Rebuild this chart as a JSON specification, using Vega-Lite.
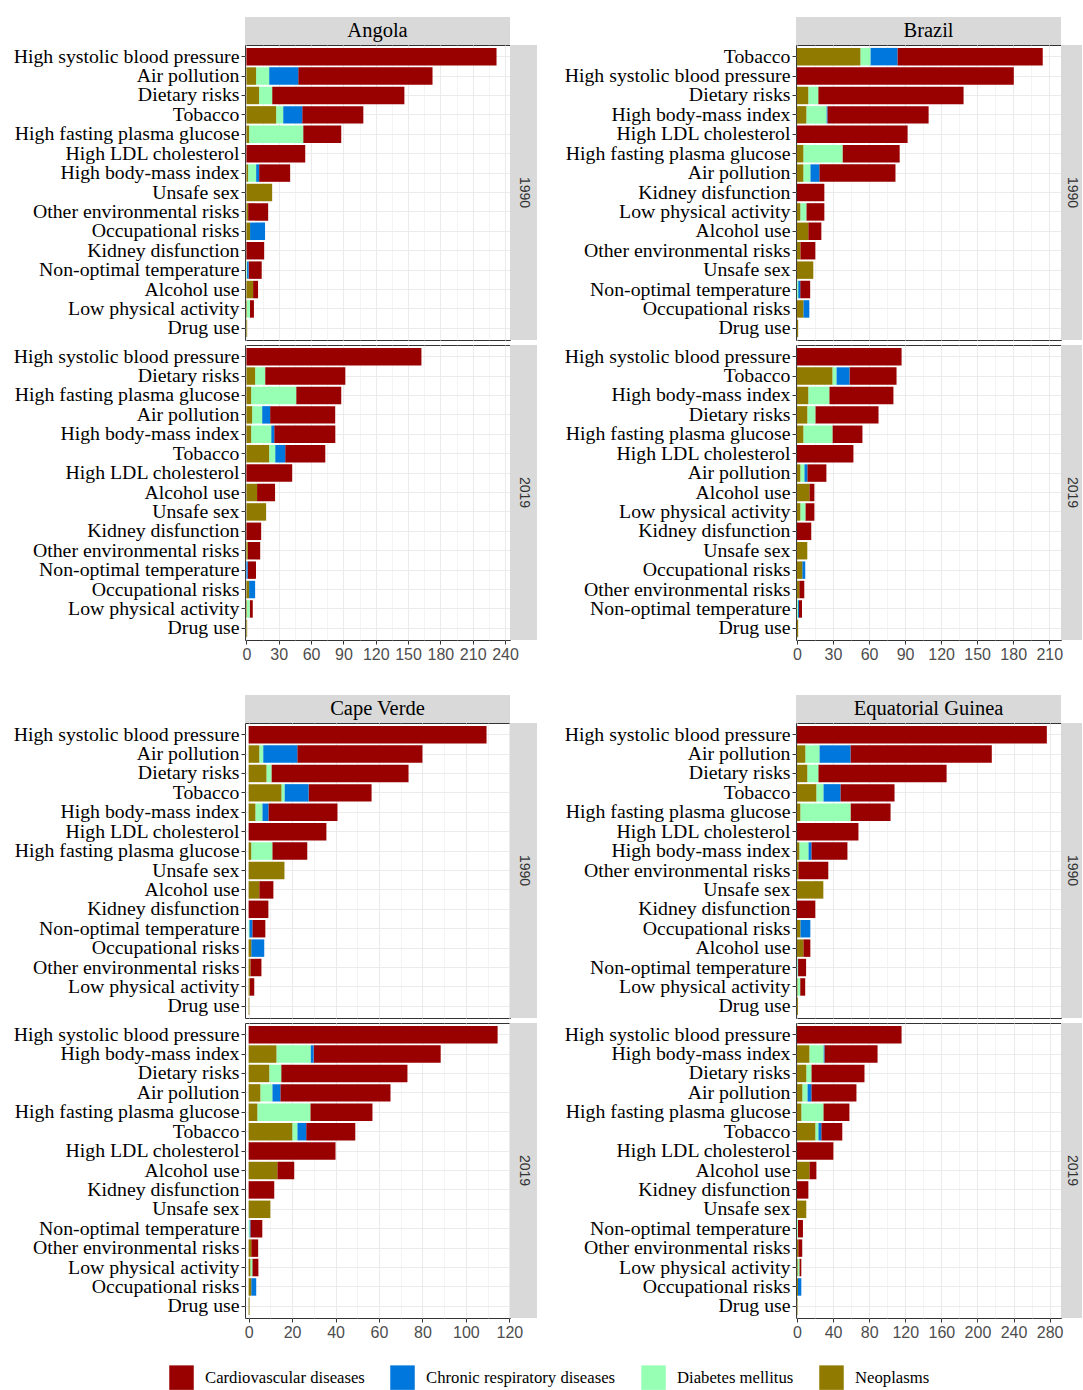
{
"$schema":"https://vega.github.io/schema/vega-lite/v6.json",
"padding":{"left":12,"top":17,"right":0,"bottom":0},
"background":"white",
"config":{
 "view":{"stroke":"#333333","strokeWidth":1},
 "axisX":{"domain":false,"grid":true,"gridColor":"#EBEBEB","tickColor":"#333333","tickSize":4,"labelFont":"Liberation Sans","labelFontSize":16,"labelColor":"#4D4D4D","labelPadding":2,"labelFlush":false,"labelOverlap":false,"title":null},
 "axisY":{"domain":false,"grid":true,"gridColor":"#EBEBEB","gridWidth":1.1,"tickColor":"#333333","tickSize":4,"labelFont":"Liberation Serif","labelFontSize":19.8,"labelColor":"#000000","labelLimit":500,"labelPadding":2,"title":null}
},
"datasets":{"d":[
{"country":"Angola","year":"1990","risk":"High systolic blood pressure","Cardiovascular diseases":232.1},
{"country":"Angola","year":"1990","risk":"Air pollution","Neoplasms":9.0,"Diabetes mellitus":12.1,"Chronic respiratory diseases":27.0,"Cardiovascular diseases":124.6},
{"country":"Angola","year":"1990","risk":"Dietary risks","Neoplasms":11.8,"Diabetes mellitus":12.1,"Cardiovascular diseases":122.7},
{"country":"Angola","year":"1990","risk":"Tobacco","Neoplasms":27.6,"Diabetes mellitus":6.5,"Chronic respiratory diseases":17.7,"Cardiovascular diseases":56.7},
{"country":"Angola","year":"1990","risk":"High fasting plasma glucose","Neoplasms":2.5,"Diabetes mellitus":50.2,"Cardiovascular diseases":35.3},
{"country":"Angola","year":"1990","risk":"High LDL cholesterol","Cardiovascular diseases":54.6},
{"country":"Angola","year":"1990","risk":"High body-mass index","Neoplasms":1.6,"Diabetes mellitus":7.4,"Chronic respiratory diseases":2.8,"Cardiovascular diseases":28.8},
{"country":"Angola","year":"1990","risk":"Unsafe sex","Neoplasms":23.9},
{"country":"Angola","year":"1990","risk":"Other environmental risks","Neoplasms":1.6,"Cardiovascular diseases":18.6},
{"country":"Angola","year":"1990","risk":"Occupational risks","Neoplasms":3.4,"Chronic respiratory diseases":13.9},
{"country":"Angola","year":"1990","risk":"Kidney disfunction","Cardiovascular diseases":16.5},
{"country":"Angola","year":"1990","risk":"Non-optimal temperature","Diabetes mellitus":0.6,"Chronic respiratory diseases":1.5,"Cardiovascular diseases":12.1},
{"country":"Angola","year":"1990","risk":"Alcohol use","Neoplasms":6.2,"Cardiovascular diseases":4.6},
{"country":"Angola","year":"1990","risk":"Low physical activity","Neoplasms":0.5,"Diabetes mellitus":2.8,"Cardiovascular diseases":3.7},
{"country":"Angola","year":"1990","risk":"Drug use","Neoplasms":0.7},
{"country":"Angola","year":"2019","risk":"High systolic blood pressure","Cardiovascular diseases":162.4},
{"country":"Angola","year":"2019","risk":"Dietary risks","Neoplasms":8.1,"Diabetes mellitus":9.3,"Cardiovascular diseases":74.4},
{"country":"Angola","year":"2019","risk":"High fasting plasma glucose","Neoplasms":4.4,"Diabetes mellitus":41.8,"Cardiovascular diseases":41.8},
{"country":"Angola","year":"2019","risk":"Air pollution","Neoplasms":5.3,"Diabetes mellitus":9.3,"Chronic respiratory diseases":7.4,"Cardiovascular diseases":60.4},
{"country":"Angola","year":"2019","risk":"High body-mass index","Neoplasms":4.4,"Diabetes mellitus":18.6,"Chronic respiratory diseases":2.8,"Cardiovascular diseases":56.7},
{"country":"Angola","year":"2019","risk":"Tobacco","Neoplasms":21.1,"Diabetes mellitus":5.6,"Chronic respiratory diseases":9.3,"Cardiovascular diseases":37.2},
{"country":"Angola","year":"2019","risk":"High LDL cholesterol","Cardiovascular diseases":42.5},
{"country":"Angola","year":"2019","risk":"Alcohol use","Neoplasms":9.9,"Cardiovascular diseases":16.7},
{"country":"Angola","year":"2019","risk":"Unsafe sex","Neoplasms":18.3},
{"country":"Angola","year":"2019","risk":"Kidney disfunction","Cardiovascular diseases":13.7},
{"country":"Angola","year":"2019","risk":"Other environmental risks","Neoplasms":1.3,"Cardiovascular diseases":11.5},
{"country":"Angola","year":"2019","risk":"Non-optimal temperature","Chronic respiratory diseases":1.2,"Cardiovascular diseases":7.7},
{"country":"Angola","year":"2019","risk":"Occupational risks","Neoplasms":2.5,"Chronic respiratory diseases":5.6},
{"country":"Angola","year":"2019","risk":"Low physical activity","Neoplasms":0.5,"Diabetes mellitus":2.6,"Cardiovascular diseases":2.8},
{"country":"Angola","year":"2019","risk":"Drug use","Neoplasms":0.7},
{"country":"Brazil","year":"1990","risk":"Tobacco","Neoplasms":52.8,"Diabetes mellitus":8.3,"Chronic respiratory diseases":22.5,"Cardiovascular diseases":121.0},
{"country":"Brazil","year":"1990","risk":"High systolic blood pressure","Cardiovascular diseases":180.5},
{"country":"Brazil","year":"1990","risk":"Dietary risks","Neoplasms":9.4,"Diabetes mellitus":8.3,"Cardiovascular diseases":121.0},
{"country":"Brazil","year":"1990","risk":"High body-mass index","Neoplasms":7.8,"Diabetes mellitus":16.7,"Chronic respiratory diseases":0.8,"Cardiovascular diseases":84.3},
{"country":"Brazil","year":"1990","risk":"High LDL cholesterol","Cardiovascular diseases":92.1},
{"country":"Brazil","year":"1990","risk":"High fasting plasma glucose","Neoplasms":5.3,"Diabetes mellitus":32.6,"Cardiovascular diseases":47.6},
{"country":"Brazil","year":"1990","risk":"Air pollution","Neoplasms":5.3,"Diabetes mellitus":5.8,"Chronic respiratory diseases":7.5,"Cardiovascular diseases":63.4},
{"country":"Brazil","year":"1990","risk":"Kidney disfunction","Cardiovascular diseases":22.8},
{"country":"Brazil","year":"1990","risk":"Low physical activity","Neoplasms":2.8,"Diabetes mellitus":5.0,"Cardiovascular diseases":15.0},
{"country":"Brazil","year":"1990","risk":"Alcohol use","Neoplasms":9.4,"Cardiovascular diseases":10.9},
{"country":"Brazil","year":"1990","risk":"Other environmental risks","Neoplasms":2.8,"Cardiovascular diseases":12.5},
{"country":"Brazil","year":"1990","risk":"Unsafe sex","Neoplasms":13.6},
{"country":"Brazil","year":"1990","risk":"Non-optimal temperature","Diabetes mellitus":1.0,"Chronic respiratory diseases":1.7,"Cardiovascular diseases":8.3},
{"country":"Brazil","year":"1990","risk":"Occupational risks","Neoplasms":5.3,"Chronic respiratory diseases":5.0},
{"country":"Brazil","year":"1990","risk":"Drug use","Neoplasms":1.0},
{"country":"Brazil","year":"2019","risk":"High systolic blood pressure","Cardiovascular diseases":87.1},
{"country":"Brazil","year":"2019","risk":"Tobacco","Neoplasms":29.5,"Diabetes mellitus":3.3,"Chronic respiratory diseases":10.9,"Cardiovascular diseases":39.2},
{"country":"Brazil","year":"2019","risk":"High body-mass index","Neoplasms":9.4,"Diabetes mellitus":17.5,"Cardiovascular diseases":53.4},
{"country":"Brazil","year":"2019","risk":"Dietary risks","Neoplasms":8.6,"Diabetes mellitus":6.7,"Cardiovascular diseases":52.6},
{"country":"Brazil","year":"2019","risk":"High fasting plasma glucose","Neoplasms":5.3,"Diabetes mellitus":24.2,"Cardiovascular diseases":25.0},
{"country":"Brazil","year":"2019","risk":"High LDL cholesterol","Cardiovascular diseases":47.0},
{"country":"Brazil","year":"2019","risk":"Air pollution","Neoplasms":2.8,"Diabetes mellitus":3.3,"Chronic respiratory diseases":2.5,"Cardiovascular diseases":15.9},
{"country":"Brazil","year":"2019","risk":"Alcohol use","Neoplasms":10.3,"Cardiovascular diseases":4.2},
{"country":"Brazil","year":"2019","risk":"Low physical activity","Neoplasms":2.8,"Diabetes mellitus":4.2,"Cardiovascular diseases":7.5},
{"country":"Brazil","year":"2019","risk":"Kidney disfunction","Cardiovascular diseases":11.9},
{"country":"Brazil","year":"2019","risk":"Unsafe sex","Neoplasms":8.6},
{"country":"Brazil","year":"2019","risk":"Occupational risks","Neoplasms":4.4,"Chronic respiratory diseases":2.5},
{"country":"Brazil","year":"2019","risk":"Other environmental risks","Neoplasms":1.9,"Cardiovascular diseases":4.2},
{"country":"Brazil","year":"2019","risk":"Non-optimal temperature","Diabetes mellitus":0.9,"Chronic respiratory diseases":0.8,"Cardiovascular diseases":2.5},
{"country":"Brazil","year":"2019","risk":"Drug use","Neoplasms":1.0},
{"country":"Cape Verde","year":"1990","risk":"High systolic blood pressure","Cardiovascular diseases":109.5},
{"country":"Cape Verde","year":"1990","risk":"Air pollution","Neoplasms":4.9,"Diabetes mellitus":1.8,"Chronic respiratory diseases":15.7,"Cardiovascular diseases":57.6},
{"country":"Cape Verde","year":"1990","risk":"Dietary risks","Neoplasms":8.2,"Diabetes mellitus":2.3,"Cardiovascular diseases":63.1},
{"country":"Cape Verde","year":"1990","risk":"Tobacco","Neoplasms":15.1,"Diabetes mellitus":1.4,"Chronic respiratory diseases":11.1,"Cardiovascular diseases":29.0},
{"country":"Cape Verde","year":"1990","risk":"High body-mass index","Neoplasms":3.1,"Diabetes mellitus":3.2,"Chronic respiratory diseases":2.8,"Cardiovascular diseases":31.8},
{"country":"Cape Verde","year":"1990","risk":"High LDL cholesterol","Cardiovascular diseases":35.8},
{"country":"Cape Verde","year":"1990","risk":"High fasting plasma glucose","Neoplasms":1.2,"Diabetes mellitus":9.7,"Cardiovascular diseases":16.1},
{"country":"Cape Verde","year":"1990","risk":"Unsafe sex","Neoplasms":16.5},
{"country":"Cape Verde","year":"1990","risk":"Alcohol use","Neoplasms":4.9,"Cardiovascular diseases":6.5},
{"country":"Cape Verde","year":"1990","risk":"Kidney disfunction","Cardiovascular diseases":9.1},
{"country":"Cape Verde","year":"1990","risk":"Non-optimal temperature","Diabetes mellitus":0.3,"Chronic respiratory diseases":1.4,"Cardiovascular diseases":6.0},
{"country":"Cape Verde","year":"1990","risk":"Occupational risks","Neoplasms":1.2,"Chronic respiratory diseases":6.0},
{"country":"Cape Verde","year":"1990","risk":"Other environmental risks","Neoplasms":0.8,"Cardiovascular diseases":5.1},
{"country":"Cape Verde","year":"1990","risk":"Low physical activity","Neoplasms":0.5,"Cardiovascular diseases":2.1},
{"country":"Cape Verde","year":"1990","risk":"Drug use","Neoplasms":0.3},
{"country":"Cape Verde","year":"2019","risk":"High systolic blood pressure","Cardiovascular diseases":114.6},
{"country":"Cape Verde","year":"2019","risk":"High body-mass index","Neoplasms":12.8,"Diabetes mellitus":15.7,"Chronic respiratory diseases":1.4,"Cardiovascular diseases":58.5},
{"country":"Cape Verde","year":"2019","risk":"Dietary risks","Neoplasms":9.5,"Diabetes mellitus":5.5,"Cardiovascular diseases":58.1},
{"country":"Cape Verde","year":"2019","risk":"Air pollution","Neoplasms":5.4,"Diabetes mellitus":5.5,"Chronic respiratory diseases":3.7,"Cardiovascular diseases":50.7},
{"country":"Cape Verde","year":"2019","risk":"High fasting plasma glucose","Neoplasms":4.0,"Diabetes mellitus":24.4,"Cardiovascular diseases":28.6},
{"country":"Cape Verde","year":"2019","risk":"Tobacco","Neoplasms":20.1,"Diabetes mellitus":2.3,"Chronic respiratory diseases":4.1,"Cardiovascular diseases":22.6},
{"country":"Cape Verde","year":"2019","risk":"High LDL cholesterol","Cardiovascular diseases":40.0},
{"country":"Cape Verde","year":"2019","risk":"Alcohol use","Neoplasms":13.2,"Cardiovascular diseases":7.8},
{"country":"Cape Verde","year":"2019","risk":"Kidney disfunction","Cardiovascular diseases":11.8},
{"country":"Cape Verde","year":"2019","risk":"Unsafe sex","Neoplasms":10.0},
{"country":"Cape Verde","year":"2019","risk":"Non-optimal temperature","Diabetes mellitus":0.4,"Chronic respiratory diseases":0.4,"Cardiovascular diseases":5.5},
{"country":"Cape Verde","year":"2019","risk":"Other environmental risks","Neoplasms":1.2,"Cardiovascular diseases":3.2},
{"country":"Cape Verde","year":"2019","risk":"Low physical activity","Neoplasms":0.8,"Diabetes mellitus":0.9,"Cardiovascular diseases":2.8},
{"country":"Cape Verde","year":"2019","risk":"Occupational risks","Neoplasms":1.2,"Chronic respiratory diseases":2.3},
{"country":"Cape Verde","year":"2019","risk":"Drug use","Neoplasms":0.4},
{"country":"Equatorial Guinea","year":"1990","risk":"High systolic blood pressure","Cardiovascular diseases":276.9},
{"country":"Equatorial Guinea","year":"1990","risk":"Air pollution","Neoplasms":9.2,"Diabetes mellitus":15.6,"Chronic respiratory diseases":34.4,"Cardiovascular diseases":156.7},
{"country":"Equatorial Guinea","year":"1990","risk":"Dietary risks","Neoplasms":11.4,"Diabetes mellitus":12.2,"Cardiovascular diseases":142.2},
{"country":"Equatorial Guinea","year":"1990","risk":"Tobacco","Neoplasms":21.4,"Diabetes mellitus":7.8,"Chronic respiratory diseases":18.9,"Cardiovascular diseases":60.0},
{"country":"Equatorial Guinea","year":"1990","risk":"High fasting plasma glucose","Neoplasms":3.7,"Diabetes mellitus":55.6,"Cardiovascular diseases":44.4},
{"country":"Equatorial Guinea","year":"1990","risk":"High LDL cholesterol","Cardiovascular diseases":68.1},
{"country":"Equatorial Guinea","year":"1990","risk":"High body-mass index","Neoplasms":2.6,"Diabetes mellitus":10.0,"Chronic respiratory diseases":3.3,"Cardiovascular diseases":40.0},
{"country":"Equatorial Guinea","year":"1990","risk":"Other environmental risks","Neoplasms":1.4,"Cardiovascular diseases":33.3},
{"country":"Equatorial Guinea","year":"1990","risk":"Unsafe sex","Neoplasms":29.2},
{"country":"Equatorial Guinea","year":"1990","risk":"Kidney disfunction","Cardiovascular diseases":20.3},
{"country":"Equatorial Guinea","year":"1990","risk":"Occupational risks","Neoplasms":3.7,"Chronic respiratory diseases":11.1},
{"country":"Equatorial Guinea","year":"1990","risk":"Alcohol use","Neoplasms":7.0,"Cardiovascular diseases":7.8},
{"country":"Equatorial Guinea","year":"1990","risk":"Non-optimal temperature","Diabetes mellitus":0.7,"Chronic respiratory diseases":0.5,"Cardiovascular diseases":8.9},
{"country":"Equatorial Guinea","year":"1990","risk":"Low physical activity","Neoplasms":0.5,"Diabetes mellitus":3.0,"Cardiovascular diseases":5.6},
{"country":"Equatorial Guinea","year":"1990","risk":"Drug use","Neoplasms":1.0},
{"country":"Equatorial Guinea","year":"2019","risk":"High systolic blood pressure","Cardiovascular diseases":115.9},
{"country":"Equatorial Guinea","year":"2019","risk":"High body-mass index","Neoplasms":13.7,"Diabetes mellitus":15.6,"Chronic respiratory diseases":1.1,"Cardiovascular diseases":58.9},
{"country":"Equatorial Guinea","year":"2019","risk":"Dietary risks","Neoplasms":10.3,"Diabetes mellitus":5.6,"Cardiovascular diseases":58.9},
{"country":"Equatorial Guinea","year":"2019","risk":"Air pollution","Neoplasms":5.9,"Diabetes mellitus":5.6,"Chronic respiratory diseases":4.4,"Cardiovascular diseases":50.0},
{"country":"Equatorial Guinea","year":"2019","risk":"High fasting plasma glucose","Neoplasms":4.8,"Diabetes mellitus":24.4,"Cardiovascular diseases":28.9},
{"country":"Equatorial Guinea","year":"2019","risk":"Tobacco","Neoplasms":20.3,"Diabetes mellitus":3.3,"Chronic respiratory diseases":3.3,"Cardiovascular diseases":23.3},
{"country":"Equatorial Guinea","year":"2019","risk":"High LDL cholesterol","Cardiovascular diseases":40.3},
{"country":"Equatorial Guinea","year":"2019","risk":"Alcohol use","Neoplasms":13.7,"Cardiovascular diseases":7.8},
{"country":"Equatorial Guinea","year":"2019","risk":"Kidney disfunction","Cardiovascular diseases":12.6},
{"country":"Equatorial Guinea","year":"2019","risk":"Unsafe sex","Neoplasms":10.3},
{"country":"Equatorial Guinea","year":"2019","risk":"Non-optimal temperature","Diabetes mellitus":1.0,"Cardiovascular diseases":5.6},
{"country":"Equatorial Guinea","year":"2019","risk":"Other environmental risks","Neoplasms":1.4,"Cardiovascular diseases":4.4},
{"country":"Equatorial Guinea","year":"2019","risk":"Low physical activity","Neoplasms":0.7,"Diabetes mellitus":1.9,"Cardiovascular diseases":2.2},
{"country":"Equatorial Guinea","year":"2019","risk":"Occupational risks","Neoplasms":1.1,"Chronic respiratory diseases":3.7},
{"country":"Equatorial Guinea","year":"2019","risk":"Drug use","Neoplasms":0.5}
]},
"data":{"name":"d"},
"columns":5,
"align":"each",
"bounds":"flush",
"spacing":0,
"resolve":{"scale":{"x":"independent","y":"independent","color":"shared"}},
"concat":[
{"width":265,"height":28,"data":{"values":[{"label":"Angola"}]},"view":{"fill":"#D9D9D9"},"mark":{"type":"text","font":"Liberation Serif","fontSize":20.5,"color":"#000000"},"encoding":{"text":{"field":"label"}}},
{"width":27,"height":28,"data":{"values":[{}]},"view":{"stroke":null},"mark":{"type":"text","text":""}},
{"width":259,"height":28,"data":{"values":[{}]},"view":{"stroke":null},"mark":{"type":"text","text":""}},
{"width":265,"height":28,"data":{"values":[{"label":"Brazil"}]},"view":{"fill":"#D9D9D9"},"mark":{"type":"text","font":"Liberation Serif","fontSize":20.5,"color":"#000000"},"encoding":{"text":{"field":"label"}}},
{"width":21,"height":28,"data":{"values":[{}]},"view":{"stroke":null},"mark":{"type":"text","text":""}},

{"width":265,"height":295,"transform":[{"filter":"datum.country === 'Angola' && datum.year === '1990'"},{"fold":["Cardiovascular diseases","Chronic respiratory diseases","Diabetes mellitus","Neoplasms"],"as":["cause","value"]},{"filter":"isValid(datum.value)"}],
 "mark":"bar",
 "encoding":{
  "y":{"field":"risk","type":"nominal","title":null,"sort":["High systolic blood pressure","Air pollution","Dietary risks","Tobacco","High fasting plasma glucose","High LDL cholesterol","High body-mass index","Unsafe sex","Other environmental risks","Occupational risks","Kidney disfunction","Non-optimal temperature","Alcohol use","Low physical activity","Drug use"],"scale":{"paddingInner":0.1,"paddingOuter":0.15},"axis":{"bandPosition":0.5}},
  "x":{"field":"value","type":"quantitative","title":null,"scale":{"domain":[-1.3,244.6],"nice":false,"zero":false},"axis":{"values":[0,15,30,45,60,75,90,105,120,135,150,165,180,195,210,225,240],"labels":false,"ticks":false,"gridWidth":{"condition":{"test":"datum.value % 30 === 0","value":1.1},"value":0.55}}},
  "color":{"field":"cause","type":"nominal","scale":{"domain":["Cardiovascular diseases","Chronic respiratory diseases","Diabetes mellitus","Neoplasms"],"range":["#990000","#0077DD","#96FFB4","#917A00"]},"legend":{"orient":"none","legendX":-76,"legendY":1348,"direction":"horizontal","title":null,"symbolType":"square","symbolSize":600,"symbolStrokeWidth":0,"symbolOpacity":1,"labelFont":"Liberation Serif","labelFontSize":16.7,"labelColor":"#000000","labelOffset":11,"columnPadding":25,"labelLimit":400}},
  "order":{"field":"cause","sort":"descending"}
 }},
{"width":27,"height":295,"data":{"values":[{"label":"1990"}]},"view":{"fill":"#D9D9D9"},"mark":{"type":"text","angle":90,"font":"Liberation Sans","fontSize":14,"color":"#333333"},"encoding":{"text":{"field":"label"}}},
{"width":259,"height":295,"data":{"values":[{}]},"view":{"stroke":null},"mark":{"type":"text","text":""}},
{"width":265,"height":295,"transform":[{"filter":"datum.country === 'Brazil' && datum.year === '1990'"},{"fold":["Cardiovascular diseases","Chronic respiratory diseases","Diabetes mellitus","Neoplasms"],"as":["cause","value"]},{"filter":"isValid(datum.value)"}],
 "mark":"bar",
 "encoding":{
  "y":{"field":"risk","type":"nominal","title":null,"sort":["Tobacco","High systolic blood pressure","Dietary risks","High body-mass index","High LDL cholesterol","High fasting plasma glucose","Air pollution","Kidney disfunction","Low physical activity","Alcohol use","Other environmental risks","Unsafe sex","Non-optimal temperature","Occupational risks","Drug use"],"scale":{"paddingInner":0.1,"paddingOuter":0.15},"axis":{"bandPosition":0.5}},
  "x":{"field":"value","type":"quantitative","title":null,"scale":{"domain":[-0.8,219.8],"nice":false,"zero":false},"axis":{"values":[0,15,30,45,60,75,90,105,120,135,150,165,180,195,210],"labels":false,"ticks":false,"gridWidth":{"condition":{"test":"datum.value % 30 === 0","value":1.1},"value":0.55}}},
  "color":{"field":"cause","type":"nominal","scale":{"domain":["Cardiovascular diseases","Chronic respiratory diseases","Diabetes mellitus","Neoplasms"],"range":["#990000","#0077DD","#96FFB4","#917A00"]},"legend":{"orient":"none","legendX":-76,"legendY":1348,"direction":"horizontal","title":null,"symbolType":"square","symbolSize":600,"symbolStrokeWidth":0,"symbolOpacity":1,"labelFont":"Liberation Serif","labelFontSize":16.7,"labelColor":"#000000","labelOffset":11,"columnPadding":25,"labelLimit":400}},
  "order":{"field":"cause","sort":"descending"}
 }},
{"width":21,"height":295,"data":{"values":[{"label":"1990"}]},"view":{"fill":"#D9D9D9"},"mark":{"type":"text","angle":90,"font":"Liberation Sans","fontSize":14,"color":"#333333"},"encoding":{"text":{"field":"label"}}},

{"width":265,"height":5,"data":{"values":[{}]},"view":{"stroke":null},"mark":{"type":"text","text":""}},
{"width":27,"height":5,"data":{"values":[{}]},"view":{"stroke":null},"mark":{"type":"text","text":""}},
{"width":259,"height":5,"data":{"values":[{}]},"view":{"stroke":null},"mark":{"type":"text","text":""}},
{"width":265,"height":5,"data":{"values":[{}]},"view":{"stroke":null},"mark":{"type":"text","text":""}},
{"width":21,"height":5,"data":{"values":[{}]},"view":{"stroke":null},"mark":{"type":"text","text":""}},

{"width":265,"height":295,"transform":[{"filter":"datum.country === 'Angola' && datum.year === '2019'"},{"fold":["Cardiovascular diseases","Chronic respiratory diseases","Diabetes mellitus","Neoplasms"],"as":["cause","value"]},{"filter":"isValid(datum.value)"}],
 "mark":"bar",
 "encoding":{
  "y":{"field":"risk","type":"nominal","title":null,"sort":["High systolic blood pressure","Dietary risks","High fasting plasma glucose","Air pollution","High body-mass index","Tobacco","High LDL cholesterol","Alcohol use","Unsafe sex","Kidney disfunction","Other environmental risks","Non-optimal temperature","Occupational risks","Low physical activity","Drug use"],"scale":{"paddingInner":0.1,"paddingOuter":0.15},"axis":{"bandPosition":0.5}},
  "x":{"field":"value","type":"quantitative","title":null,"scale":{"domain":[-1.3,244.6],"nice":false,"zero":false},"axis":{"values":[0,15,30,45,60,75,90,105,120,135,150,165,180,195,210,225,240],"labelExpr":"datum.value % 30 === 0 ? datum.label : ''","tickOpacity":{"condition":{"test":"datum.value % 30 === 0","value":1},"value":0},"gridWidth":{"condition":{"test":"datum.value % 30 === 0","value":1.1},"value":0.55}}},
  "color":{"field":"cause","type":"nominal","scale":{"domain":["Cardiovascular diseases","Chronic respiratory diseases","Diabetes mellitus","Neoplasms"],"range":["#990000","#0077DD","#96FFB4","#917A00"]},"legend":{"orient":"none","legendX":-76,"legendY":1348,"direction":"horizontal","title":null,"symbolType":"square","symbolSize":600,"symbolStrokeWidth":0,"symbolOpacity":1,"labelFont":"Liberation Serif","labelFontSize":16.7,"labelColor":"#000000","labelOffset":11,"columnPadding":25,"labelLimit":400}},
  "order":{"field":"cause","sort":"descending"}
 }},
{"width":27,"height":295,"data":{"values":[{"label":"2019"}]},"view":{"fill":"#D9D9D9"},"mark":{"type":"text","angle":90,"font":"Liberation Sans","fontSize":14,"color":"#333333"},"encoding":{"text":{"field":"label"}}},
{"width":259,"height":295,"data":{"values":[{}]},"view":{"stroke":null},"mark":{"type":"text","text":""}},
{"width":265,"height":295,"transform":[{"filter":"datum.country === 'Brazil' && datum.year === '2019'"},{"fold":["Cardiovascular diseases","Chronic respiratory diseases","Diabetes mellitus","Neoplasms"],"as":["cause","value"]},{"filter":"isValid(datum.value)"}],
 "mark":"bar",
 "encoding":{
  "y":{"field":"risk","type":"nominal","title":null,"sort":["High systolic blood pressure","Tobacco","High body-mass index","Dietary risks","High fasting plasma glucose","High LDL cholesterol","Air pollution","Alcohol use","Low physical activity","Kidney disfunction","Unsafe sex","Occupational risks","Other environmental risks","Non-optimal temperature","Drug use"],"scale":{"paddingInner":0.1,"paddingOuter":0.15},"axis":{"bandPosition":0.5}},
  "x":{"field":"value","type":"quantitative","title":null,"scale":{"domain":[-0.8,219.8],"nice":false,"zero":false},"axis":{"values":[0,15,30,45,60,75,90,105,120,135,150,165,180,195,210],"labelExpr":"datum.value % 30 === 0 ? datum.label : ''","tickOpacity":{"condition":{"test":"datum.value % 30 === 0","value":1},"value":0},"gridWidth":{"condition":{"test":"datum.value % 30 === 0","value":1.1},"value":0.55}}},
  "color":{"field":"cause","type":"nominal","scale":{"domain":["Cardiovascular diseases","Chronic respiratory diseases","Diabetes mellitus","Neoplasms"],"range":["#990000","#0077DD","#96FFB4","#917A00"]},"legend":{"orient":"none","legendX":-76,"legendY":1348,"direction":"horizontal","title":null,"symbolType":"square","symbolSize":600,"symbolStrokeWidth":0,"symbolOpacity":1,"labelFont":"Liberation Serif","labelFontSize":16.7,"labelColor":"#000000","labelOffset":11,"columnPadding":25,"labelLimit":400}},
  "order":{"field":"cause","sort":"descending"}
 }},
{"width":21,"height":295,"data":{"values":[{"label":"2019"}]},"view":{"fill":"#D9D9D9"},"mark":{"type":"text","angle":90,"font":"Liberation Sans","fontSize":14,"color":"#333333"},"encoding":{"text":{"field":"label"}}},

{"width":265,"height":55,"data":{"values":[{}]},"view":{"stroke":null},"mark":{"type":"text","text":""}},
{"width":27,"height":55,"data":{"values":[{}]},"view":{"stroke":null},"mark":{"type":"text","text":""}},
{"width":259,"height":55,"data":{"values":[{}]},"view":{"stroke":null},"mark":{"type":"text","text":""}},
{"width":265,"height":55,"data":{"values":[{}]},"view":{"stroke":null},"mark":{"type":"text","text":""}},
{"width":21,"height":55,"data":{"values":[{}]},"view":{"stroke":null},"mark":{"type":"text","text":""}},

{"width":265,"height":28,"data":{"values":[{"label":"Cape Verde"}]},"view":{"fill":"#D9D9D9"},"mark":{"type":"text","font":"Liberation Serif","fontSize":20.5,"color":"#000000"},"encoding":{"text":{"field":"label"}}},
{"width":27,"height":28,"data":{"values":[{}]},"view":{"stroke":null},"mark":{"type":"text","text":""}},
{"width":259,"height":28,"data":{"values":[{}]},"view":{"stroke":null},"mark":{"type":"text","text":""}},
{"width":265,"height":28,"data":{"values":[{"label":"Equatorial Guinea"}]},"view":{"fill":"#D9D9D9"},"mark":{"type":"text","font":"Liberation Serif","fontSize":20.5,"color":"#000000"},"encoding":{"text":{"field":"label"}}},
{"width":21,"height":28,"data":{"values":[{}]},"view":{"stroke":null},"mark":{"type":"text","text":""}},

{"width":265,"height":295,"transform":[{"filter":"datum.country === 'Cape Verde' && datum.year === '1990'"},{"fold":["Cardiovascular diseases","Chronic respiratory diseases","Diabetes mellitus","Neoplasms"],"as":["cause","value"]},{"filter":"isValid(datum.value)"}],
 "mark":"bar",
 "encoding":{
  "y":{"field":"risk","type":"nominal","title":null,"sort":["High systolic blood pressure","Air pollution","Dietary risks","Tobacco","High body-mass index","High LDL cholesterol","High fasting plasma glucose","Unsafe sex","Alcohol use","Kidney disfunction","Non-optimal temperature","Occupational risks","Other environmental risks","Low physical activity","Drug use"],"scale":{"paddingInner":0.1,"paddingOuter":0.15},"axis":{"bandPosition":0.5}},
  "x":{"field":"value","type":"quantitative","title":null,"scale":{"domain":[-1.66,120.3],"nice":false,"zero":false},"axis":{"values":[0,10,20,30,40,50,60,70,80,90,100,110,120],"labels":false,"ticks":false,"gridWidth":{"condition":{"test":"datum.value % 20 === 0","value":1.1},"value":0.55}}},
  "color":{"field":"cause","type":"nominal","scale":{"domain":["Cardiovascular diseases","Chronic respiratory diseases","Diabetes mellitus","Neoplasms"],"range":["#990000","#0077DD","#96FFB4","#917A00"]},"legend":{"orient":"none","legendX":-76,"legendY":1348,"direction":"horizontal","title":null,"symbolType":"square","symbolSize":600,"symbolStrokeWidth":0,"symbolOpacity":1,"labelFont":"Liberation Serif","labelFontSize":16.7,"labelColor":"#000000","labelOffset":11,"columnPadding":25,"labelLimit":400}},
  "order":{"field":"cause","sort":"descending"}
 }},
{"width":27,"height":295,"data":{"values":[{"label":"1990"}]},"view":{"fill":"#D9D9D9"},"mark":{"type":"text","angle":90,"font":"Liberation Sans","fontSize":14,"color":"#333333"},"encoding":{"text":{"field":"label"}}},
{"width":259,"height":295,"data":{"values":[{}]},"view":{"stroke":null},"mark":{"type":"text","text":""}},
{"width":265,"height":295,"transform":[{"filter":"datum.country === 'Equatorial Guinea' && datum.year === '1990'"},{"fold":["Cardiovascular diseases","Chronic respiratory diseases","Diabetes mellitus","Neoplasms"],"as":["cause","value"]},{"filter":"isValid(datum.value)"}],
 "mark":"bar",
 "encoding":{
  "y":{"field":"risk","type":"nominal","title":null,"sort":["High systolic blood pressure","Air pollution","Dietary risks","Tobacco","High fasting plasma glucose","High LDL cholesterol","High body-mass index","Other environmental risks","Unsafe sex","Kidney disfunction","Occupational risks","Alcohol use","Non-optimal temperature","Low physical activity","Drug use"],"scale":{"paddingInner":0.1,"paddingOuter":0.15},"axis":{"bandPosition":0.5}},
  "x":{"field":"value","type":"quantitative","title":null,"scale":{"domain":[-1.1,292.6],"nice":false,"zero":false},"axis":{"values":[0,20,40,60,80,100,120,140,160,180,200,220,240,260,280],"labels":false,"ticks":false,"gridWidth":{"condition":{"test":"datum.value % 40 === 0","value":1.1},"value":0.55}}},
  "color":{"field":"cause","type":"nominal","scale":{"domain":["Cardiovascular diseases","Chronic respiratory diseases","Diabetes mellitus","Neoplasms"],"range":["#990000","#0077DD","#96FFB4","#917A00"]},"legend":{"orient":"none","legendX":-76,"legendY":1348,"direction":"horizontal","title":null,"symbolType":"square","symbolSize":600,"symbolStrokeWidth":0,"symbolOpacity":1,"labelFont":"Liberation Serif","labelFontSize":16.7,"labelColor":"#000000","labelOffset":11,"columnPadding":25,"labelLimit":400}},
  "order":{"field":"cause","sort":"descending"}
 }},
{"width":21,"height":295,"data":{"values":[{"label":"1990"}]},"view":{"fill":"#D9D9D9"},"mark":{"type":"text","angle":90,"font":"Liberation Sans","fontSize":14,"color":"#333333"},"encoding":{"text":{"field":"label"}}},

{"width":265,"height":5,"data":{"values":[{}]},"view":{"stroke":null},"mark":{"type":"text","text":""}},
{"width":27,"height":5,"data":{"values":[{}]},"view":{"stroke":null},"mark":{"type":"text","text":""}},
{"width":259,"height":5,"data":{"values":[{}]},"view":{"stroke":null},"mark":{"type":"text","text":""}},
{"width":265,"height":5,"data":{"values":[{}]},"view":{"stroke":null},"mark":{"type":"text","text":""}},
{"width":21,"height":5,"data":{"values":[{}]},"view":{"stroke":null},"mark":{"type":"text","text":""}},

{"width":265,"height":295,"transform":[{"filter":"datum.country === 'Cape Verde' && datum.year === '2019'"},{"fold":["Cardiovascular diseases","Chronic respiratory diseases","Diabetes mellitus","Neoplasms"],"as":["cause","value"]},{"filter":"isValid(datum.value)"}],
 "mark":"bar",
 "encoding":{
  "y":{"field":"risk","type":"nominal","title":null,"sort":["High systolic blood pressure","High body-mass index","Dietary risks","Air pollution","High fasting plasma glucose","Tobacco","High LDL cholesterol","Alcohol use","Kidney disfunction","Unsafe sex","Non-optimal temperature","Other environmental risks","Low physical activity","Occupational risks","Drug use"],"scale":{"paddingInner":0.1,"paddingOuter":0.15},"axis":{"bandPosition":0.5}},
  "x":{"field":"value","type":"quantitative","title":null,"scale":{"domain":[-1.66,120.3],"nice":false,"zero":false},"axis":{"values":[0,10,20,30,40,50,60,70,80,90,100,110,120],"labelExpr":"datum.value % 20 === 0 ? datum.label : ''","tickOpacity":{"condition":{"test":"datum.value % 20 === 0","value":1},"value":0},"gridWidth":{"condition":{"test":"datum.value % 20 === 0","value":1.1},"value":0.55}}},
  "color":{"field":"cause","type":"nominal","scale":{"domain":["Cardiovascular diseases","Chronic respiratory diseases","Diabetes mellitus","Neoplasms"],"range":["#990000","#0077DD","#96FFB4","#917A00"]},"legend":{"orient":"none","legendX":-76,"legendY":1348,"direction":"horizontal","title":null,"symbolType":"square","symbolSize":600,"symbolStrokeWidth":0,"symbolOpacity":1,"labelFont":"Liberation Serif","labelFontSize":16.7,"labelColor":"#000000","labelOffset":11,"columnPadding":25,"labelLimit":400}},
  "order":{"field":"cause","sort":"descending"}
 }},
{"width":27,"height":295,"data":{"values":[{"label":"2019"}]},"view":{"fill":"#D9D9D9"},"mark":{"type":"text","angle":90,"font":"Liberation Sans","fontSize":14,"color":"#333333"},"encoding":{"text":{"field":"label"}}},
{"width":259,"height":295,"data":{"values":[{}]},"view":{"stroke":null},"mark":{"type":"text","text":""}},
{"width":265,"height":295,"transform":[{"filter":"datum.country === 'Equatorial Guinea' && datum.year === '2019'"},{"fold":["Cardiovascular diseases","Chronic respiratory diseases","Diabetes mellitus","Neoplasms"],"as":["cause","value"]},{"filter":"isValid(datum.value)"}],
 "mark":"bar",
 "encoding":{
  "y":{"field":"risk","type":"nominal","title":null,"sort":["High systolic blood pressure","High body-mass index","Dietary risks","Air pollution","High fasting plasma glucose","Tobacco","High LDL cholesterol","Alcohol use","Kidney disfunction","Unsafe sex","Non-optimal temperature","Other environmental risks","Low physical activity","Occupational risks","Drug use"],"scale":{"paddingInner":0.1,"paddingOuter":0.15},"axis":{"bandPosition":0.5}},
  "x":{"field":"value","type":"quantitative","title":null,"scale":{"domain":[-1.1,292.6],"nice":false,"zero":false},"axis":{"values":[0,20,40,60,80,100,120,140,160,180,200,220,240,260,280],"labelExpr":"datum.value % 40 === 0 ? datum.label : ''","tickOpacity":{"condition":{"test":"datum.value % 40 === 0","value":1},"value":0},"gridWidth":{"condition":{"test":"datum.value % 40 === 0","value":1.1},"value":0.55}}},
  "color":{"field":"cause","type":"nominal","scale":{"domain":["Cardiovascular diseases","Chronic respiratory diseases","Diabetes mellitus","Neoplasms"],"range":["#990000","#0077DD","#96FFB4","#917A00"]},"legend":{"orient":"none","legendX":-76,"legendY":1348,"direction":"horizontal","title":null,"symbolType":"square","symbolSize":600,"symbolStrokeWidth":0,"symbolOpacity":1,"labelFont":"Liberation Serif","labelFontSize":16.7,"labelColor":"#000000","labelOffset":11,"columnPadding":25,"labelLimit":400}},
  "order":{"field":"cause","sort":"descending"}
 }},
{"width":21,"height":295,"data":{"values":[{"label":"2019"}]},"view":{"fill":"#D9D9D9"},"mark":{"type":"text","angle":90,"font":"Liberation Sans","fontSize":14,"color":"#333333"},"encoding":{"text":{"field":"label"}}}
]
}
